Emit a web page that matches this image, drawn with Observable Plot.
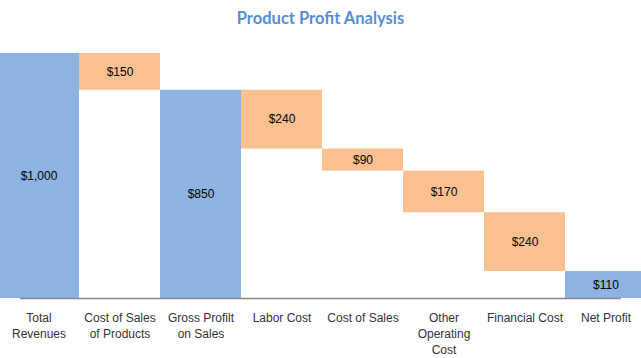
<!DOCTYPE html>
<html><head><meta charset="utf-8">
<script src="https://cdn.jsdelivr.net/npm/d3@7"></script>
<script src="https://cdn.jsdelivr.net/npm/@observablehq/plot@0.6"></script>
<style>
body{margin:0;background:#fff;}
#title{height:36px;line-height:36px;text-align:center;font-family:Lato,"Liberation Sans",sans-serif;font-weight:bold;font-size:16.5px;color:#558ED5;}
</style></head><body>
<div id="title">Product Profit Analysis</div>
<div id="chart"></div>
<script>
const categories = ["Total\nRevenues","Cost of Sales\nof Products","Gross Profilt\non Sales","Labor Cost","Cost of Sales","Other\nOperating\nCost","Financial Cost","Net Profit"];
const amounts = [1000, -150, 850, -240, -90, -170, -240, 110];
const kinds = ["total","change","total","change","change","change","change","total"];
const labels = ["$1,000","$150","$850","$240","$90","$170","$240","$110"];

let run = 0;
const rows = categories.map((c, i) => {
  let y1, y2;
  if (kinds[i] === "total") { y1 = 0; y2 = amounts[i]; run = amounts[i]; }
  else { y1 = run; y2 = run + amounts[i]; run = y2; }
  return {cat: c, y1, y2, kind: kinds[i], label: labels[i]};
});

const chart = Plot.plot({
  width: 641,
  height: 322,
  marginTop: 17,
  marginBottom: 60,
  x: {domain: categories, range: [-2, 646], padding: 0, axis: null},
  y: {domain: [0, 1000], axis: null},
  style: {fontFamily: "'Liberation Sans', Arial, sans-serif", fontSize: "12px", background: "#fff"},
  marks: [
    Plot.barY(rows, {x: "cat", y1: "y1", y2: "y2", fill: d => d.kind === "total" ? "#8DB3E2" : "#FAC090", inset: 0}),
    Plot.text(rows, {x: "cat", y: d => (d.y1 + d.y2) / 2, text: "label", fill: "#000", fontSize: 12}),
    Plot.ruleY([0], {stroke: "#888", strokeWidth: 1.5}),
    Plot.axisX({tickSize: 0, tickPadding: 12, fontSize: 12, fill: "#333", lineHeight: 1.33, label: null})
  ]
});
document.getElementById("chart").appendChild(chart);
</script>
</body></html>
